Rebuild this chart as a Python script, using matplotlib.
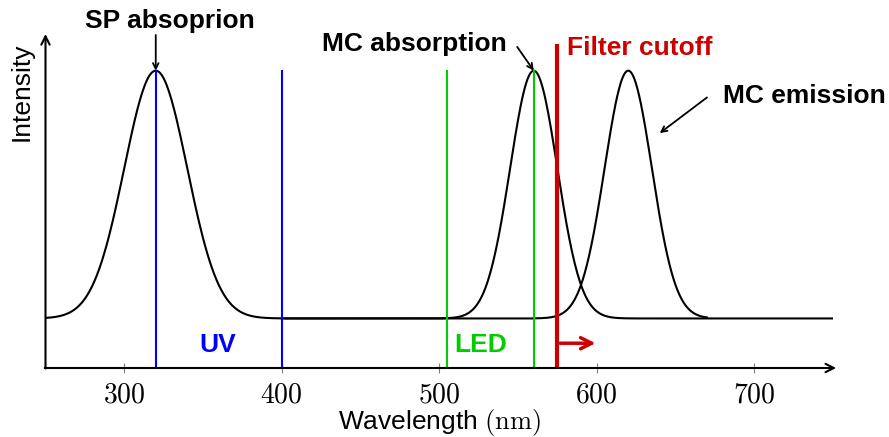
import numpy as np
import matplotlib.pyplot as plt

plt.rcParams['font.family'] = ['Liberation Sans', 'DejaVu Sans']
plt.rcParams['mathtext.fontset'] = 'cm'

# spectra (wavelength in nm), baseline 0.5, peak height 2.5
baseline = 0.5
amp = 2.5
sp_center, sp_sigma = 320, 20
mc_abs_center, mc_abs_sigma = 560, 15
mc_em_center, mc_em_sigma = 620, 15

uv_lines = [320, 400]
led_lines = [505, 560]
cutoff = 575
xticks = [300, 400, 500, 600, 700]

def gauss(x, mu, s):
    return baseline + amp * np.exp(-(x - mu)**2 / (2 * s**2))

fig = plt.figure(figsize=(8.89, 4.37), dpi=100)
W, H = 889, 437
ax = fig.add_axes([45.5/W, (H-368)/H, (833-45.5)/W, (368-35)/H])
ax.set_xlim(250, 750)
ax.set_ylim(0, 3.36)
for s in ax.spines.values():
    s.set_visible(False)

x1 = np.linspace(250, 560, 400)
x2 = np.linspace(400, 750, 400)
x3 = np.linspace(560, 670, 300)
ax.plot(x1, gauss(x1, sp_center, sp_sigma), color='black', lw=1.5)
ax.plot(x2, gauss(x2, mc_abs_center, mc_abs_sigma), color='black', lw=1.5)
ax.plot(x3, gauss(x3, mc_em_center, mc_em_sigma), color='black', lw=1.5)

for xv in uv_lines:
    ax.plot([xv, xv], [0, 3.0], color='#0000ff', lw=1.5)
for xv in led_lines:
    ax.plot([xv, xv], [0, 3.0], color='#00cc00', lw=1.5)
ax.plot([cutoff, cutoff], [0, 3.25], color='#cc0000', lw=3)
ax.annotate('', xy=(601, 0.25), xytext=(cutoff, 0.25),
            arrowprops=dict(arrowstyle='->', color='#cc0000', lw=2.5, mutation_scale=20))

# axes arrows
ax.annotate('', xy=(752, 0), xytext=(249.5, 0), annotation_clip=False,
            arrowprops=dict(arrowstyle='->', color='black', lw=1.5, mutation_scale=15,
                            shrinkA=0, shrinkB=0))
ax.annotate('', xy=(250, 3.37), xytext=(250, -0.005), annotation_clip=False,
            arrowprops=dict(arrowstyle='->', color='black', lw=1.5, mutation_scale=15,
                            shrinkA=0, shrinkB=0))

ax.set_xticks(xticks)
ax.set_xticklabels(['$%d$' % t for t in xticks], fontsize=20)
ax.set_yticks([])
ax.tick_params(axis='x', direction='inout', length=7, width=0.8, color='gray', pad=7)

# axis labels, placed in figure pixels
fig.text(440/W, 1 - 422/H, r'Wavelength $(\mathrm{nm})$', fontsize=19, ha='center', va='center')
fig.text(22/W, 1 - 92/H, 'Intensity', fontsize=19, rotation=90, ha='center', va='center')

# annotations
ax.text(329, 3.5, 'SP absoprion', fontsize=19, fontweight='bold', ha='center', va='center')
ax.annotate('', xy=(320, 3.0), xytext=(320, 3.36), annotation_clip=False,
            arrowprops=dict(arrowstyle='->', color='black', lw=1.3, shrinkA=0, shrinkB=0))
ax.text(484, 3.27, 'MC absorption', fontsize=19, fontweight='bold', ha='center', va='center')
ax.annotate('', xy=(560, 3.0), xytext=(549.5, 3.24),
            arrowprops=dict(arrowstyle='->', color='black', lw=1.3, shrinkA=0, shrinkB=0))
ax.text(581, 3.23, 'Filter cutoff', fontsize=19, fontweight='bold', color='#cc0000',
        ha='left', va='center')
ax.text(680, 2.74, 'MC emission', fontsize=19, fontweight='bold', ha='left', va='center')
ax.annotate('', xy=(640, 2.37), xytext=(670, 2.73),
            arrowprops=dict(arrowstyle='->', color='black', lw=1.3, shrinkA=0, shrinkB=0))
ax.text(359.5, 0.23, 'UV', fontsize=19, fontweight='bold', color='#0000ff',
        ha='center', va='center')
ax.text(526, 0.23, 'LED', fontsize=19, fontweight='bold', color='#00cc00',
        ha='center', va='center')

fig.savefig('out.png', dpi=100)
